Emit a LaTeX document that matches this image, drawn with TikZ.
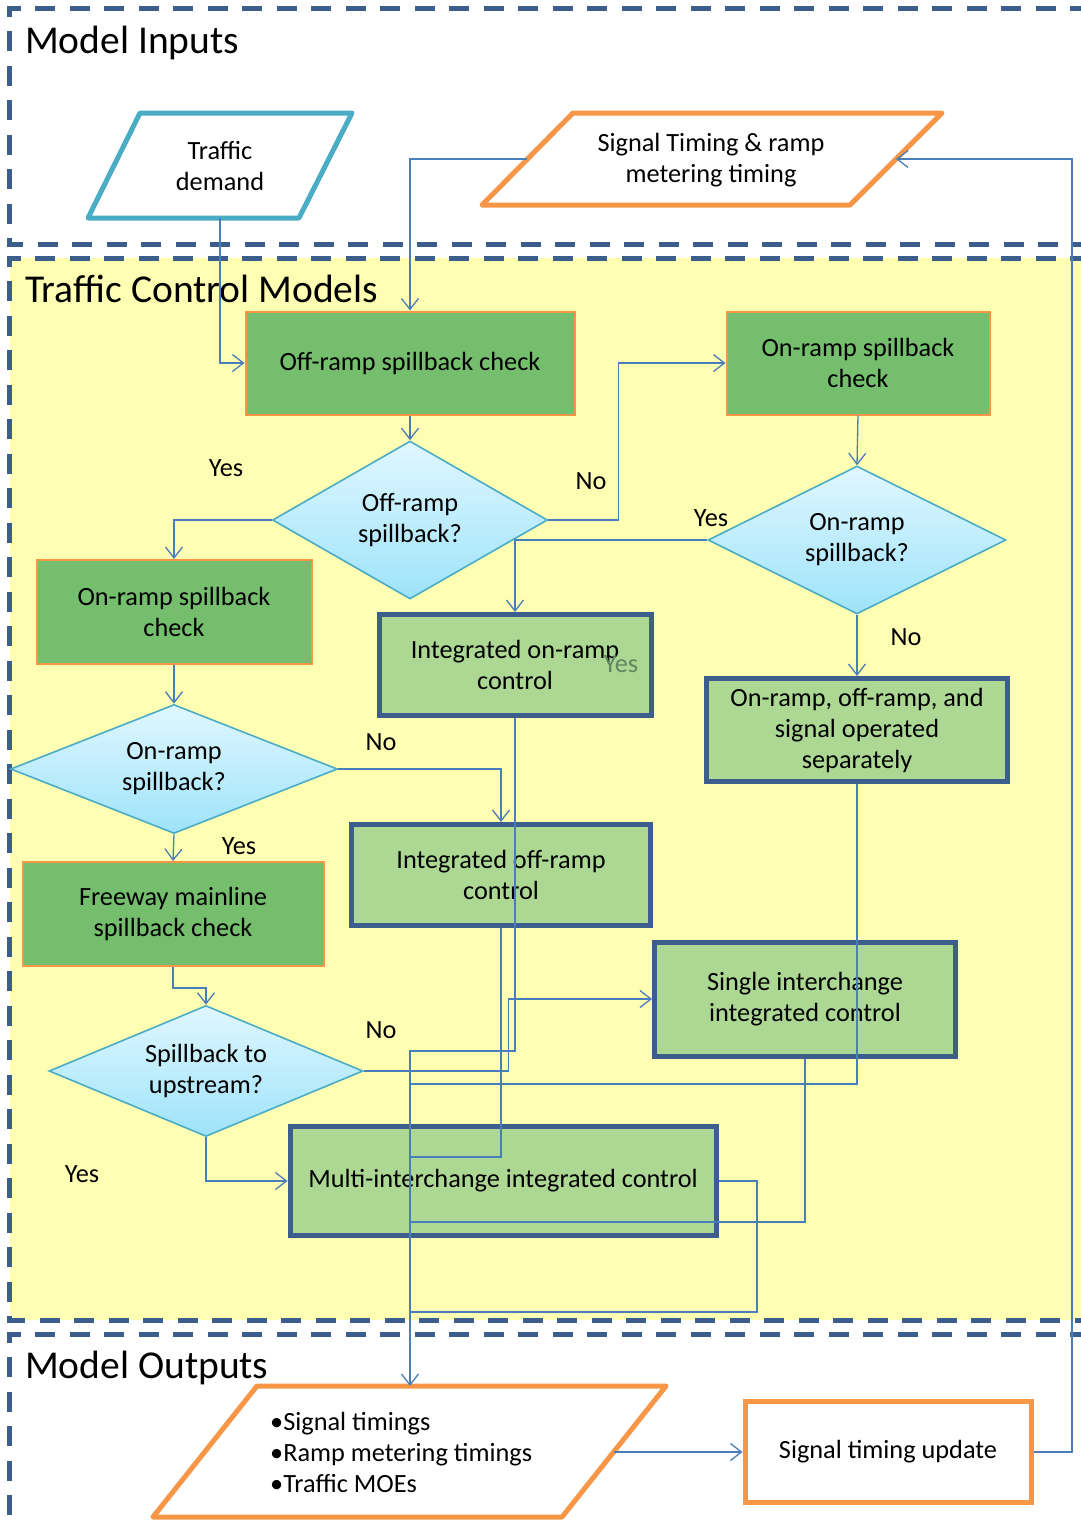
\documentclass[tikz,border=0pt]{standalone}
\usepackage{fontspec}
\setmainfont{Carlito}
\usetikzlibrary{shapes.geometric,arrows.meta}

\definecolor{dashblue}{RGB}{59,94,140}
\definecolor{linkblue}{RGB}{74,126,187}
\definecolor{orangeline}{RGB}{247,150,70}
\definecolor{tealline}{RGB}{75,172,198}
\definecolor{checkgreen}{RGB}{116,190,110}
\definecolor{ctrlgreen}{RGB}{172,216,148}
\definecolor{paleyellow}{RGB}{255,255,180}
\definecolor{diamondtop}{RGB}{224,247,255}
\definecolor{diamondbot}{RGB}{158,227,250}
\definecolor{ghostgreen}{RGB}{95,135,95}

\newcommand\bodyfont{\fontsize{26.3}{31}\selectfont}
\newcommand\titlefont{\fontsize{39.5}{46}\selectfont}

\begin{document}
\begin{tikzpicture}[x=1pt,y=-1pt,
  dashsec/.style={draw=dashblue, line width=5pt, dash pattern=on 20pt off 14.5pt},
  checkbox/.style={rectangle, draw=orangeline, line width=2pt, fill=checkgreen,
    align=center, inner sep=0pt, font=\bodyfont},
  ctrlbox/.style={rectangle, draw=dashblue, line width=5pt, fill=ctrlgreen,
    align=center, inner sep=0pt, font=\bodyfont},
  decision/.style={diamond, draw=tealline, line width=1.6pt, top color=diamondtop,
    bottom color=diamondbot, align=center, inner sep=0pt, font=\bodyfont},
  lbl/.style={font=\bodyfont, inner sep=0pt},
  sectitle/.style={font=\titlefont, anchor=base west, inner sep=0pt},
  conn/.style={draw=linkblue, line width=1.3pt},
  arr/.style={conn, -{Straight Barb[length=11pt,width=17pt]}},
  inputshape/.style={line width=5pt, line join=round, fill=white}
]
\useasboundingbox (0,0) rectangle (1080,1527);

% --- section frames -------------------------------------------------
\draw[dashsec] (1090,8) -- (9,8) -- (9,244) -- (1090,244);
\fill[paleyellow] (10,258) rectangle (1090,1320);
\draw[dashsec] (1090,258) -- (9,258) -- (9,1320) -- (1090,1320);
\draw[dashsec] (1090,1334) -- (9,1334) -- (9,1545);

\node[sectitle] (tin)  at (25,53)   {Model Inputs};
\node[sectitle] (tctl) at (25,302)  {Traffic Control Models};
\node[sectitle] (tout) at (25,1378) {Model Outputs};

% --- inputs ---------------------------------------------------------
\draw[inputshape, draw=tealline] (140,113) -- (352,113) -- (299,218) -- (88,218) -- cycle;
\node[lbl, align=center] (td) at (220,166) {Traffic\\demand};
\coordinate (tdb) at (220,218);

\draw[inputshape, draw=orangeline] (573,113) -- (942,113) -- (850,205) -- (482,205) -- cycle;
\node[lbl, align=center] (st) at (711,160) {Signal Timing \& ramp\\metering timing};
\coordinate (stl) at (527,159);
\coordinate (str) at (896,159);

% --- control logic --------------------------------------------------
\node[checkbox, minimum width=329pt, minimum height=103pt] (c1) at (410,363) {Off-ramp spillback check};
\node[checkbox, minimum width=263pt, minimum height=103pt] (c3) at (858,363) {On-ramp spillback\\check};
\node[decision, minimum width=275pt, minimum height=158pt, aspect=1.74] (d1) at (410,520) {Off-ramp\\spillback?};
\node[decision, minimum width=298pt, minimum height=148pt, aspect=2.0] (d2) at (857,540) {On-ramp\\spillback?};
\node[checkbox, minimum width=275pt, minimum height=104pt] (c4) at (174,612) {On-ramp spillback\\check};
\node[ctrlbox, minimum width=272pt, minimum height=101pt] (ic1) at (515,665) {Integrated on-ramp\\control};
\node[ctrlbox, minimum width=301pt, minimum height=103pt] (sep) at (857,730) {On-ramp, off-ramp, and\\signal operated\\separately};
\node[decision, minimum width=327pt, minimum height=129pt, aspect=2.5] (d3) at (174,769) {On-ramp\\spillback?};
\node[ctrlbox, minimum width=299pt, minimum height=101pt] (io) at (501,875) {Integrated off-ramp\\control};
\node[checkbox, minimum width=301pt, minimum height=104pt] (fw) at (173,914) {Freeway mainline\\spillback check};
\node[ctrlbox, minimum width=301pt, minimum height=114pt] (si) at (805,999) {Single interchange\\integrated control};
\node[decision, minimum width=314pt, minimum height=131pt, aspect=2.4] (d4) at (206,1071) {Spillback to\\upstream?};
\node[ctrlbox, minimum width=426pt, minimum height=109pt] (mi) at (503,1181) {Multi-interchange integrated control};

% branch labels
\node[lbl] (y1) at (226,468) {Yes};
\node[lbl] (n1) at (591,481) {No};
\node[lbl] (y2) at (711,518) {Yes};
\node[lbl] (n2) at (906,637) {No};
\node[lbl] (n3) at (381,742) {No};
\node[lbl] (y3) at (239,846) {Yes};
\node[lbl] (n4) at (381,1030) {No};
\node[lbl] (y4) at (82,1174) {Yes};
\node[lbl, text=ghostgreen] (y5) at (621,664) {Yes};

% --- outputs --------------------------------------------------------
\draw[inputshape, draw=orangeline] (257,1386) -- (666,1386) -- (562,1517) -- (153,1517) -- cycle;
\node[lbl, align=left, anchor=west] (ol) at (270,1452) {\textbullet Signal timings\\\textbullet Ramp metering timings\\\textbullet Traffic MOEs};
\coordinate (outt) at (410,1386);
\coordinate (outr) at (614,1452);
\node[rectangle, draw=orangeline, line width=5pt, fill=white, minimum width=286pt,
  minimum height=101pt, font=\bodyfont] (su) at (888,1452) {Signal timing update};

% --- connectors -----------------------------------------------------
\draw[arr] (tdb) |- (c1.west);
\draw[arr] (stl) -| (c1.north);
\draw[arr] (c1.south) -- (d1.north);
\draw[arr] (d1.west) -| (c4.north);
\draw[arr] (d1.east) -- ++(70,0) |- (c3.west);
\draw[arr] (c3.south) -- (d2.north);
\draw[arr] (d2.west) -| (ic1.north);
\draw[arr] (d2.south) -- (sep.north);
\draw[arr] (c4.south) -- (d3.north);
\draw[arr] (d3.east) -| (io.north);
\draw[arr] (d3.south) -- (fw.north);
\draw[arr] (fw.south) -- ++(0,21) -| (d4.north);
\draw[arr] (d4.east) -- ++(145,0) |- (si.west);
\draw[arr] (d4.south) |- (mi.west);

% collector trunk to the outputs
\coordinate (j1) at (410,1051);
\coordinate (j2) at (410,1157);
\coordinate (j3) at (410,1084);
\coordinate (j4) at (410,1222);
\coordinate (j5) at (410,1312);
\coordinate (mb) at (757,1181);
\draw[arr] (ic1.south) |- (j1) -- (outt);
\draw[conn] (io.south) |- (j2);
\draw[conn] (sep.south) |- (j3);
\draw[conn] (si.south) |- (j4);
\draw[conn] (mi.east) -- (mb) |- (j5);

% feedback loop
\coordinate (fb) at (1072,159);
\draw[arr] (outr) -- (su.west);
\draw[arr] (su.east) -| (fb) -- (str);
\end{tikzpicture}
\end{document}
